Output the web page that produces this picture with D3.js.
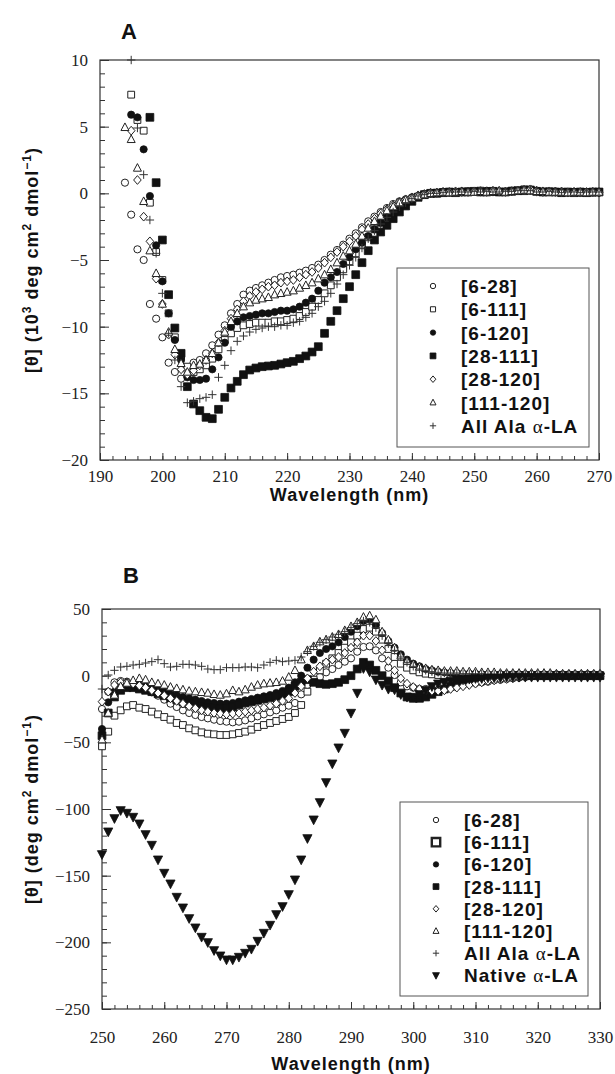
<!DOCTYPE html>
<html lang="en">
<head>
<meta charset="UTF-8">
<title>CD spectra of alpha-LA variants</title>
<script src="https://d3js.org/d3.v7.min.js"></script>
<style>
    body { margin: 0; background: #fff; }
    .axis text { font-family: "Liberation Serif", "Times New Roman", serif; font-size: 17px; fill: #222; }
    .axis line { stroke: #333; stroke-width: 1; }
    .frame { fill: none; stroke: #333; stroke-width: 1.2; }
    .axis-title { font-family: "Liberation Sans", Arial, sans-serif; font-weight: bold; font-size: 18px; fill: #111; letter-spacing: 1px; }
    .panel-label { font-family: "Liberation Sans", Arial, sans-serif; font-weight: bold; font-size: 22px; fill: #111; }
    .legend-text { font-family: "Liberation Sans", Arial, sans-serif; font-weight: bold; font-size: 19px; fill: #111; letter-spacing: 1px; }
    .legend-box { fill: #fff; stroke: #555; stroke-width: 1; }
</style>
</head>
<body>
<svg id="chart" width="615" height="1074"></svg>
<script>
// ---------- Panel A: far-UV, values in 10^3 deg cm2 dmol-1, 1 nm steps ----------
var a_6_28 = [0.8, -1.6, -4.2, -5.0, -8.3, -9.4, -10.8, -12.7, -13.4, -13.9,
    -13.3, -12.7, -12.5, -12.0, -11.4, -10.6, -9.9, -9.0, -8.3, -7.6,
    -7.3, -7.1, -6.9, -6.7, -6.5, -6.3, -6.2, -6.1, -5.95, -5.8,
    -5.6, -5.35, -5.0, -4.6, -4.25, -3.85, -3.4, -3.0, -2.55, -2.1,
    -1.75, -1.4, -1.1, -0.8, -0.6, -0.45, -0.3, -0.2, -0.05, 0.0,
    0.05, 0.1, 0.1, 0.1, 0.15, 0.1, 0.15, 0.2, 0.15, 0.1,
    0.15, 0.1, 0.15, 0.2, 0.25, 0.3, 0.2, 0.15, 0.1, 0.1,
    0.15, 0.1, 0.1, 0.05, 0.1, 0.1, 0.1];            // 194-270
var a_6_111 = [7.4, 5.5, 4.7, -0.7, -4.4, -6.5, -9.0, -10.8, -12.2, -13.0,
    -13.4, -13.2, -12.9, -12.4, -11.7, -11.0, -10.5, -10.1, -9.9, -9.8,
    -9.7, -9.7, -9.7, -9.6, -9.6, -9.5, -9.4, -9.2, -8.9, -8.5,
    -8.0, -7.5, -6.9, -6.3, -5.7, -5.1, -4.5, -3.9, -3.3, -2.7,
    -2.2, -1.8, -1.4, -1.0, -0.7, -0.45, -0.25, -0.1, 0.0, 0.05,
    0.1, 0.05, 0.1, 0.1, 0.15, 0.1, 0.2, 0.1, 0.15, 0.1,
    0.1, 0.2, 0.2, 0.3, 0.25, 0.15, 0.1, 0.15, 0.1, 0.05,
    0.1, 0.1, 0.05, 0.1, 0.05, 0.1];                  // 195-270
var a_6_120 = [5.9, 5.7, 3.3, -0.2, -3.9, -6.6, -9.0, -11.0, -12.5, -13.8,
    -14.0, -14.0, -13.9, -13.2, -12.3, -11.2, -10.0, -9.6, -9.3, -9.2,
    -9.1, -9.0, -9.0, -8.9, -8.8, -8.8, -8.7, -8.5, -8.2, -7.9,
    -7.3, -6.7, -6.3, -5.9, -5.3, -4.8, -4.2, -3.7, -3.2, -2.7,
    -2.2, -1.8, -1.4, -1.0, -0.7, -0.45, -0.25, -0.1, 0.0, 0.05,
    0.05, 0.1, 0.1, 0.1, 0.15, 0.15, 0.1, 0.2, 0.15, 0.1,
    0.15, 0.2, 0.2, 0.25, 0.2, 0.15, 0.1, 0.1, 0.15, 0.1,
    0.05, 0.1, 0.1, 0.05, 0.1, 0.05];                 // 195-270
var a_28_111 = [5.7, 0.8, -3.5, -7.6, -10.1, -12.0, -14.5, -15.8, -16.3, -16.8,
    -16.9, -16.2, -15.3, -14.6, -14.1, -13.6, -13.25, -13.1, -13.0, -12.95,
    -12.9, -12.8, -12.7, -12.6, -12.4, -12.2, -11.9, -11.5, -10.5, -9.6,
    -8.8, -7.9, -7.0, -6.1, -5.2, -4.3, -3.5, -2.9, -2.4, -1.9,
    -1.4, -0.95, -0.6, -0.3, -0.1, 0.0, 0.0, 0.05, 0.1, 0.05,
    0.1, 0.1, 0.15, 0.1, 0.1, 0.15, 0.1, 0.1, 0.15, 0.2,
    0.2, 0.25, 0.15, 0.1, 0.1, 0.1, 0.05, 0.1, 0.05, 0.1,
    0.05, 0.1, 0.1];                                    // 198-270
var a_28_120 = [4.7, 1.0, -1.75, -3.6, -6.4, -8.3, -10.6, -12.1, -13.2, -13.6,
    -13.3, -12.9, -12.5, -12.0, -11.2, -10.3, -9.4, -8.7, -8.1, -7.7,
    -7.4, -7.2, -7.0, -6.9, -6.7, -6.6, -6.5, -6.3, -6.1, -5.9,
    -5.6, -5.2, -4.8, -4.4, -4.0, -3.6, -3.2, -2.7, -2.3, -1.9,
    -1.5, -1.2, -0.9, -0.65, -0.45, -0.3, -0.15, -0.05, 0.05, 0.05,
    0.1, 0.1, 0.15, 0.1, 0.1, 0.15, 0.15, 0.1, 0.2, 0.15,
    0.1, 0.15, 0.2, 0.25, 0.3, 0.2, 0.1, 0.15, 0.1, 0.1,
    0.05, 0.1, 0.05, 0.1, 0.1, 0.05];                 // 195-270
var a_111_120 = [4.95, 4.05, 1.9, -0.6, -4.3, -6.0, -8.3, -10.4, -11.7, -12.75,
    -13.4, -12.9, -12.8, -12.5, -12.0, -11.2, -10.4, -9.6, -9.0, -8.5,
    -8.2, -8.0, -7.9, -7.8, -7.6, -7.5, -7.4, -7.3, -7.1, -6.9,
    -6.7, -6.4, -6.1, -5.7, -5.2, -4.7, -4.3, -3.8, -3.2, -2.6,
    -2.1, -1.7, -1.3, -1.0, -0.7, -0.5, -0.35, -0.2, -0.1, 0.0,
    0.05, 0.1, 0.05, 0.1, 0.15, 0.1, 0.1, 0.15, 0.1, 0.15,
    0.2, 0.1, 0.15, 0.2, 0.25, 0.2, 0.15, 0.15, 0.1, 0.1,
    0.1, 0.05, 0.1, 0.1, 0.05, 0.1, 0.1];            // 194-270
var a_allAla = [10.0, 4.9, 1.4, -2.0, -4.5, -7.5, -10.5, -12.5, -14.5, -15.7,
    -15.6, -15.4, -15.3, -15.1, -13.8, -12.9, -11.8, -11.1, -10.7, -10.4,
    -10.2, -10.1, -10.0, -10.0, -9.9, -9.9, -9.7, -9.6, -9.3, -9.0,
    -8.5, -8.1, -7.5, -6.8, -6.1, -5.4, -4.8, -4.1, -3.4, -2.8,
    -2.3, -1.8, -1.4, -1.0, -0.7, -0.4, -0.2, -0.1, 0.0, 0.0,
    0.05, 0.1, 0.1, 0.1, 0.1, 0.15, 0.1, 0.15, 0.1, 0.1,
    0.15, 0.15, 0.2, 0.2, 0.2, 0.1, 0.1, 0.15, 0.1, 0.05,
    0.1, 0.1, 0.05, 0.1, 0.1, 0.1];                   // 195-270

// ---------- Panel B: near-UV, deg cm2 dmol-1, 250-330 nm ----------
var b_6_28 = [-25, -12, -5, -4, -4.5, -6.5, -8.5, -10.5, -12.5, -15,
    -18, -21, -23.5, -26, -28, -29.5, -31, -32, -33, -34,
    -34.5, -35, -34.5, -33.5, -32, -30.5, -29, -27.5, -26, -24,
    -22.5, -20.5, -14, -7, -4.5, -1, 2.5, 5, 8, 10.5,
    13, 18, 21.5, 22, 19, 13, 6, 0.5, -5, -8,
    -9, -10, -10, -10.5, -10.5, -10, -9, -8, -7, -6,
    -5.5, -5, -4.5, -3.5, -3, -2.5, -2, -1.5, -1, -0.5,
    0, 0.5, 0.5, 0.5, 0.5, 0.5, 0.5, 0.5, 0.5, 0.5, 0.5];
var b_6_111 = [-53, -42, -30, -26, -23, -22, -24, -25, -27, -29,
    -31, -33, -35.5, -37, -39.5, -41, -42.5, -43.5, -44, -44.5,
    -44.5, -44, -43, -42, -40.5, -38.5, -37, -35.5, -34, -32.5,
    -31, -28, -22, -12, -3, 4, 9, 13, 17, 21,
    25, 30, 35, 36, 33, 27, 20, 14, 9, 6,
    4, 2.5, 1.5, 1, 0.5, 0.5, 0, 0, 0.5, 0,
    0, 0.5, 0, 0, 0.5, 0, 0, 0.5, 0, 0,
    0.5, 0, 0, 0.5, 0, 0, 0.5, 0, 0, 0.5, 0];
var b_6_120 = [-40, -20, -12, -7, -6, -6, -7, -8, -9, -10,
    -11.5, -13, -14.5, -16, -17, -18, -19, -20, -20.5, -21,
    -21, -20.5, -19.5, -18.5, -17.5, -16.5, -15.5, -14.5, -13, -11.5,
    -9, -5, 0, 6, 12, 17, 20, 22, 25, 29,
    33, 37, 41, 42, 38, 32, 26, 21, 16, 12,
    9, 7, 5, 4, 3, 2.5, 2, 2, 1.5, 1.5,
    1.5, 1, 1, 1, 1, 1, 1, 1, 1, 1,
    1, 1, 1, 1, 1, 1, 1, 1, 1, 1, 1];
var b_28_111 = [-45, -28, -16, -11, -9, -9, -10, -11, -12, -13.5,
    -15, -16.5, -18, -19.5, -21, -22, -23, -24, -24.5, -25,
    -24.5, -23.5, -22, -20.5, -19.5, -18.5, -17.5, -16.5, -15.5, -14,
    -12, -8, -5, -3, -5, -6, -6.5, -6, -5, -3,
    0, 5, 10, 8, 4, 0, -4, -9, -13, -16,
    -17, -17, -16, -14, -12, -10, -8, -6, -4.5, -3,
    -2, -1.5, -1, -1, -0.5, -0.5, 0, 0, 0, 0,
    0, 0, 0, 0, 0, 0, 0, 0, 0, 0, 0];
var b_28_120 = [-19.5, -12, -7, -5, -5, -6, -7.5, -9, -11, -13,
    -15, -17, -19, -21, -23, -24.5, -26, -27, -28, -28.5,
    -29, -28.5, -28, -27, -26, -25, -24, -22.5, -21, -19,
    -17, -13, -8, -2, 3, 7, 10, 12, 14, 17,
    21, 25, 30, 30, 26, 19, 11, 4, -2, -6,
    -8.5, -10, -11, -11.5, -11.5, -11, -10, -9, -8, -7,
    -6, -5, -4, -3.5, -3, -2.5, -2, -1.5, -1, -0.5,
    0, 0, 0.5, 0, 0.5, 0, 0.5, 0, 0.5, 0, 0.5];
var b_111_120 = [-48, -28, -14.5, -8, -5.5, -3.5, -2, -3, -5, -6,
    -7, -8.5, -9.5, -10.5, -11.5, -12, -12.5, -13, -14, -14.5,
    -13.5, -11, -12, -10.5, -8.5, -7, -6, -5.5, -5, -4,
    -1, 4, 12, 19, 22, 25.5, 27, 29, 31, 34,
    37, 40, 44, 45, 42, 33, 27, 21, 15, 11,
    8.5, 6.5, 5.5, 4.5, 4, 3.5, 3.5, 3.5, 3, 3,
    3, 2.5, 2.5, 2.5, 2, 2, 2, 2, 2, 2,
    2, 2, 2, 1.5, 1.5, 1.5, 1.5, 1.5, 1.5, 1.5, 1.5];
var b_allAla = [-10, 0.5, 4, 6.5, 7, 8, 8.5, 9.5, 10.5, 12,
    9, 6.5, 7, 8.5, 8.5, 8, 7, 5, 4.5, 4.5,
    6, 6, 6, 6.5, 6.5, 6, 8, 10, 11.5, 10.5,
    11, 11.5, 14, 18, 22, 25, 27, 29, 31, 33,
    36, 39, 41, 40, 36, 30, 24, 19, 14, 10,
    7, 5, 4, 3, 2.5, 2, 2, 2, 1.5, 1.5,
    1.5, 1.5, 1, 1, 1, 1, 1, 1, 1, 1,
    1, 1, 1, 1, 1, 1, 1, 1, 1, 1, 1];
var b_native = [-134, -117, -107, -101, -103, -106, -111, -119, -127, -138,
    -148, -156, -166, -174, -182, -189, -196, -200, -206, -210,
    -213, -213, -211, -208, -205, -199, -193, -187, -179, -173,
    -164, -153, -138, -122, -108, -95, -80, -66, -54, -43,
    -28, -13, 5.5, 3, -3, -7, -10, -10.5, -14, -16,
    -16, -14, -11, -8, -6, -5, -4, -3, -3, -2.5,
    -2, -2, -1.5, -1.5, -1.5, -1, -1, -1, -1, -1,
    -1, -1, -1, -1, -1, -1, -1, -1, -1, -1, -1];

// Axis tick values
var ticksAx = [190, 200, 210, 220, 230, 240, 250, 260, 270];
var ticksAy = [-20, -15, -10, -5, 0, 5, 10];
var ticksBx = [250, 260, 270, 280, 290, 300, 310, 320, 330];
var ticksBy = [-250, -200, -150, -100, -50, 0, 50];

// Series definitions (name, first wavelength, values, marker)
var seriesA = [
    { name: "[6-28]", start: 194, values: a_6_28, shape: "circle", filled: false },
    { name: "[6-111]", start: 195, values: a_6_111, shape: "square", filled: false },
    { name: "[6-120]", start: 195, values: a_6_120, shape: "circle", filled: true },
    { name: "[28-111]", start: 198, values: a_28_111, shape: "square", filled: true },
    { name: "[28-120]", start: 195, values: a_28_120, shape: "diamond", filled: false },
    { name: "[111-120]", start: 194, values: a_111_120, shape: "triangle", filled: false },
    { name: "All Ala", start: 195, values: a_allAla, shape: "plus", filled: false }
];
var seriesB = [
    { name: "[6-28]", start: 250, values: b_6_28, shape: "circle", filled: false },
    { name: "[6-111]", start: 250, values: b_6_111, shape: "square", filled: false, bold: true },
    { name: "[6-120]", start: 250, values: b_6_120, shape: "circle", filled: true },
    { name: "[28-111]", start: 250, values: b_28_111, shape: "square", filled: true },
    { name: "[28-120]", start: 250, values: b_28_120, shape: "diamond", filled: false },
    { name: "[111-120]", start: 250, values: b_111_120, shape: "triangle", filled: false },
    { name: "All Ala", start: 250, values: b_allAla, shape: "plus", filled: false },
    { name: "Native", start: 250, values: b_native, shape: "down", filled: true }
];

var svg = d3.select("#chart");

// marker path around (0,0)
function symbolPath(type, s) {
    switch (type) {
        case "circle":
            return "M" + s + ",0A" + s + "," + s + " 0 1,1 " + (-s) + ",0A" + s + "," + s + " 0 1,1 " + s + ",0Z";
        case "square":
            return "M" + (-s) + "," + (-s) + "H" + s + "V" + s + "H" + (-s) + "Z";
        case "diamond":
            return "M0," + (-s * 1.15) + "L" + s + ",0L0," + (s * 1.15) + "L" + (-s) + ",0Z";
        case "triangle":
            return "M0," + (-s * 1.1) + "L" + s + "," + (s * 0.8) + "L" + (-s) + "," + (s * 0.8) + "Z";
        case "down":
            return "M" + (-s) + "," + (-s * 0.8) + "L" + s + "," + (-s * 0.8) + "L0," + (s * 1.1) + "Z";
        case "plus":
            return "M" + (-s) + ",0H" + s + "M0," + (-s) + "V" + s;
    }
}

function styleMarker(sel, d, legend) {
    if (d.shape === "plus") {
        sel.attr("fill", "none").attr("stroke", "#333").attr("stroke-width", 1);
    } else if (d.filled) {
        sel.attr("fill", "#111").attr("stroke", "#111").attr("stroke-width", 0.8);
    } else {
        sel.attr("fill", "#fff").attr("stroke", "#222")
            .attr("stroke-width", legend && d.bold ? 2.4 : 1);
    }
}

function markerSize(d, legend) {
    var base = { circle: 3.6, square: 3.4, diamond: 3.8, triangle: 4.0, plus: 4.2, down: 4.6 }[d.shape];
    if (d.shape === "square" && d.filled) base = 3.9;
    if (legend) {
        base = base * 0.75;
        if (d.bold) base = 4.2;
    }
    return base;
}

function drawPanel(opt) {
    var x = d3.scaleLinear().domain(opt.xDomain).range([opt.left, opt.right]);
    var y = d3.scaleLinear().domain(opt.yDomain).range([opt.bottom, opt.top]);

    // minor ticks
    svg.append("g")
        .attr("class", "axis")
        .attr("transform", "translate(0," + opt.bottom + ")")
        .call(d3.axisBottom(x).tickValues(d3.range(opt.xDomain[0], opt.xDomain[1] + 0.1, opt.xMinor)).tickSize(-4).tickFormat(""))
        .call(g => g.select(".domain").remove());
    svg.append("g")
        .attr("class", "axis")
        .attr("transform", "translate(" + opt.left + ",0)")
        .call(d3.axisLeft(y).tickValues(d3.range(opt.yDomain[0], opt.yDomain[1] + 0.1, opt.yMinor)).tickSize(-5).tickFormat(""))
        .call(g => g.select(".domain").remove());

    // major ticks + labels
    svg.append("g")
        .attr("class", "axis")
        .attr("transform", "translate(0," + opt.bottom + ")")
        .call(d3.axisBottom(x).tickValues(opt.xTicks).tickSize(-7).tickPadding(opt.xPad).tickFormat(d3.format("d")))
        .call(g => g.select(".domain").remove())
        .attr("font-family", "Liberation Serif, serif");
    svg.append("g")
        .attr("class", "axis")
        .attr("transform", "translate(" + opt.left + ",0)")
        .call(d3.axisLeft(y).tickValues(opt.yTicks).tickSize(-9).tickPadding(12).tickFormat(d3.format("d")))
        .call(g => g.select(".domain").remove())
        .attr("font-family", "Liberation Serif, serif");

    // frame
    svg.append("rect")
        .attr("class", "frame")
        .attr("x", opt.left).attr("y", opt.top)
        .attr("width", opt.right - opt.left).attr("height", opt.bottom - opt.top);

    // data markers
    opt.series.forEach(function(s) {
        var pts = s.values.map((v, i) => ({ nm: s.start + i, v: v }));
        var g = svg.append("g");
        g.selectAll("path")
            .data(pts)
            .enter().append("path")
            .attr("transform", d => "translate(" + x(d.nm) + "," + y(d.v) + ")")
            .attr("d", symbolPath(s.shape, markerSize(s, false)))
            .call(sel => styleMarker(sel, s, false));
    });

    // legend
    var lg = svg.append("g");
    lg.append("rect")
        .attr("class", "legend-box")
        .attr("x", opt.legend.x).attr("y", opt.legend.y)
        .attr("width", opt.legend.w).attr("height", opt.legend.h);
    opt.series.forEach(function(s, i) {
        var ry = opt.legend.y + opt.legend.first + i * opt.legend.step;
        lg.append("path")
            .attr("transform", "translate(" + (opt.legend.x + 36) + "," + ry + ")")
            .attr("d", symbolPath(s.shape, markerSize(s, true)))
            .call(sel => styleMarker(sel, s, true));
        var t = lg.append("text")
            .attr("class", "legend-text")
            .attr("x", opt.legend.x + 64)
            .attr("y", ry + 7);
        if (s.name === "All Ala" || s.name === "Native") {
            t.append("tspan").text(s.name + " ");
            t.append("tspan").style("font-family", "'Liberation Serif', serif").style("font-weight", "normal").text("\u03b1");
            t.append("tspan").text("-LA");
        } else {
            t.text(s.name);
        }
    });

    // panel letter
    svg.append("text")
        .attr("class", "panel-label")
        .attr("x", opt.left + 21)
        .attr("y", opt.top - opt.labelGap)
        .text(opt.label);

    // x title
    svg.append("text")
        .attr("class", "axis-title")
        .attr("x", (opt.left + opt.right) / 2)
        .attr("y", opt.bottom + opt.titleGap)
        .attr("text-anchor", "middle")
        .text("Wavelength (nm)");

    // y title
    var yt = svg.append("text")
        .attr("class", "axis-title")
        .attr("text-anchor", "middle")
        .attr("transform", "translate(38," + ((opt.top + opt.bottom) / 2) + ") rotate(-90)");
    opt.yTitle.forEach(function(part) {
        var ts = yt.append("tspan").text(part.t);
        if (part.sup) ts.attr("baseline-shift", "super").style("font-size", "12px");
    });
}

// Panel A
drawPanel({
    label: "A", labelGap: 21,
    xDomain: [190, 270], yDomain: [-20, 10],
    left: 100, right: 599, top: 60, bottom: 460,
    xTicks: ticksAx, yTicks: ticksAy, xMinor: 2, yMinor: 1,
    xPad: 10, titleGap: 41,
    series: seriesA,
    legend: { x: 397, y: 268, w: 192, h: 179, first: 18, step: 23.3 },
    yTitle: [{ t: "[\u03b8] (10" }, { t: "3", sup: true }, { t: " deg cm" }, { t: "2", sup: true },
             { t: " dmol" }, { t: "\u22121", sup: true }, { t: ")" }]
});

// Panel B
drawPanel({
    label: "B", labelGap: 26,
    xDomain: [250, 330], yDomain: [-250, 50],
    left: 102, right: 600, top: 609, bottom: 1009,
    xTicks: ticksBx, yTicks: ticksBy, xMinor: 2, yMinor: 10,
    xPad: 22, titleGap: 61,
    series: seriesB,
    legend: { x: 400, y: 802, w: 188, h: 194, first: 18, step: 22.2 },
    yTitle: [{ t: "[\u03b8] (deg cm" }, { t: "2", sup: true }, { t: " dmol" }, { t: "\u22121", sup: true }, { t: ")" }]
});
</script>
</body>
</html>
